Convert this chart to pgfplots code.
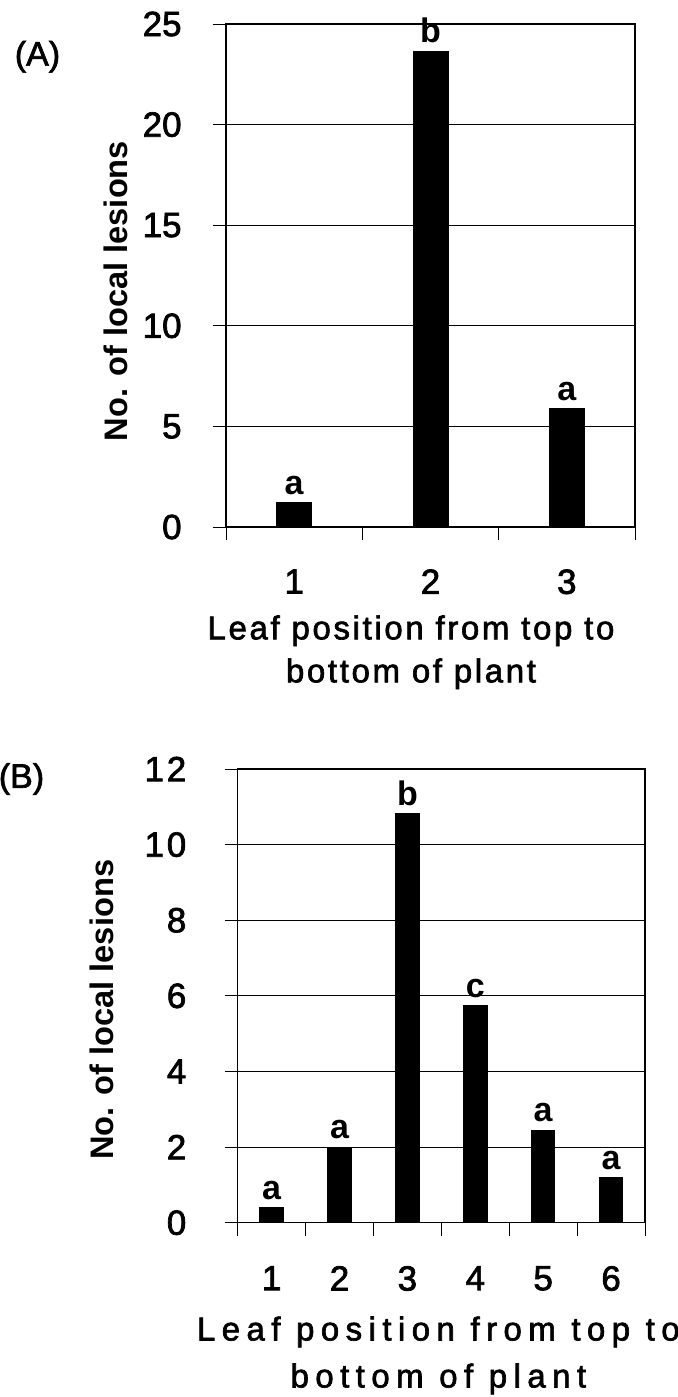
\documentclass[border=0pt]{standalone}
\usepackage{fontspec}
\setmainfont{Liberation Sans}
\usepackage{pgfplots}
\pgfplotsset{compat=1.18}
\newfontfamily\heavy[FakeBold=2]{Liberation Sans}
\newfontfamily\spacedA[LetterSpace=8,FakeBold=2]{Liberation Sans}
\newfontfamily\spacedB[LetterSpace=19.5,FakeBold=2]{Liberation Sans}
\newfontfamily\spacedT[LetterSpace=8,FakeBold=2]{Liberation Sans}

\pgfplotsset{
  lesion/.style={
    scale only axis,
    ybar, bar width=17.5pt,
    tick align=outside, ytick pos=left, xtick pos=bottom,
    major tick length=6.5pt,
    ymin=0,
    ymajorgrids, xmajorgrids=false,
    grid style={line width=0.5pt, black},
    axis line style={line width=0.6pt, black},
    every tick/.style={line width=0.5pt, black},
    /pgf/number format/assume math mode=true,
    yticklabel style={font=\heavy\fontsize{17.5}{17.5}\selectfont, inner sep=0pt, anchor=east, xshift=-15.5pt},
    xticklabel style={font=\heavy\fontsize{17.5}{17.5}\selectfont, inner sep=0pt, anchor=north, yshift=-21pt},
    xticklabels={,,,,,,,},
    extra x tick style={major tick length=0pt, grid=none},
    point meta=explicit symbolic,
    nodes near coords,
    every node near coord/.append style={font=\fontsize{17}{17}\selectfont\bfseries, inner sep=0pt, anchor=south, yshift=3.7pt},
    ylabel style={font=\fontsize{16.3}{16.3}\selectfont\bfseries, anchor=center, rotate=0},
  }
}

\begin{document}
\begin{tikzpicture}
\useasboundingbox (0,0) rectangle (339pt,-698.5pt);

% Panel A
\begin{axis}[lesion,
  at={(113pt,-263.5pt)}, anchor=south west,
  width=204.5pt, height=251.5pt,
  xmin=0.5, xmax=3.5, ymax=25,
  ytick={0,5,10,15,20,25},
  xtick={0.5,1.5,2.5,3.5},
  extra x ticks={1,2,3}, extra x tick labels={1,2,3},
  ylabel={No. of local lesions},
  ylabel style={at={(axis description cs:-0.269,0.469)}},
  xlabel={Leaf position from top to\\bottom of plant},
  xlabel style={align=center, at={(axis description cs:0.5,0)}, anchor=north,
    inner sep=0pt, yshift=-44pt, xshift=-9.75pt,
    font=\spacedA\fontsize{16.5}{21.5}\selectfont},
]
\addplot[fill=black, draw=black, line width=0.5pt] coordinates {(1,1.22)[a] (2,23.65)[b] (3,5.9)[a]};
\end{axis}

% Panel B
\begin{axis}[lesion,
  at={(118.85pt,-611.35pt)}, anchor=south west,
  width=203.65pt, height=226.85pt,
  bar width=11.8pt,
  xmin=0.5, xmax=6.5, ymax=12,
  ytick={0,2,4,6,8,10,12},
  xtick={0.5,1.5,2.5,3.5,4.5,5.5,6.5},
  extra x ticks={1,2,3,4,5,6}, extra x tick labels={1,2,3,4,5,6},
  yticklabel style={font=\spacedT\fontsize{17.5}{17.5}\selectfont, xshift=-3.5pt},
  xticklabel style={font=\spacedT\fontsize{17.5}{17.5}\selectfont, yshift=-0.5pt},
  ylabel={No. of local lesions},
  ylabel style={at={(axis description cs:-0.333,0.469)}},
  xlabel={Leaf position from top to\\bottom of plant},
  xlabel style={align=center, at={(axis description cs:0.5,0)}, anchor=north,
    inner sep=0pt, yshift=-46.7pt, xshift=-1.5pt,
    font=\spacedB\fontsize{16.5}{23.5}\selectfont},
]
\addplot[fill=black, draw=black, line width=0.5pt] coordinates {(1,0.39)[a] (2,2.0)[a] (3,10.83)[b] (4,5.74)[c] (5,2.45)[a] (6,1.2)[a]};
\end{axis}

\node[font=\heavy\fontsize{17}{17}\selectfont, inner sep=0pt] at (18.75pt,-28.4pt) {(A)};
\node[font=\heavy\fontsize{17}{17}\selectfont, inner sep=0pt] at (10.75pt,-389.5pt) {(B)};
\end{tikzpicture}
\end{document}
